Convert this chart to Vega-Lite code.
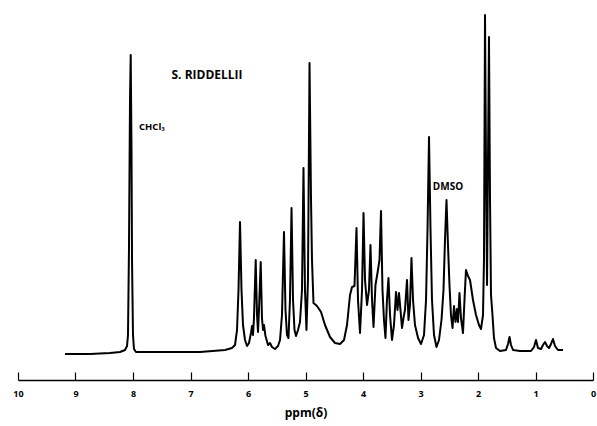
{
  "$schema": "https://vega.github.io/schema/vega-lite/v6.json",
  "autosize": {"type": "none"},
  "padding": {"left": 18, "top": 0, "right": 4, "bottom": 46},
  "width": 575,
  "height": 380,
  "background": "white",
  "config": {"view": {"stroke": null}, "axis": {"grid": false}},
  "datasets": {
    "spectrum": [
      {"ppm": 9.183, "I": -1}, {"ppm": 8.748, "I": -1}, {"ppm": 8.4, "I": 0}, {"ppm": 8.226, "I": 1},
      {"ppm": 8.139, "I": 3}, {"ppm": 8.104, "I": 7}, {"ppm": 8.087, "I": 18}, {"ppm": 8.07, "I": 103},
      {"ppm": 8.052, "I": 253}, {"ppm": 8.04, "I": 298}, {"ppm": 8.026, "I": 203}, {"ppm": 8.017, "I": 93},
      {"ppm": 8.0, "I": 18}, {"ppm": 7.983, "I": 4}, {"ppm": 7.948, "I": 1}, {"ppm": 7.53, "I": 1},
      {"ppm": 6.835, "I": 1}, {"ppm": 6.4, "I": 3}, {"ppm": 6.278, "I": 5}, {"ppm": 6.226, "I": 8},
      {"ppm": 6.191, "I": 23}, {"ppm": 6.165, "I": 63}, {"ppm": 6.139, "I": 131}, {"ppm": 6.113, "I": 63},
      {"ppm": 6.087, "I": 28}, {"ppm": 6.052, "I": 13}, {"ppm": 6.017, "I": 7}, {"ppm": 5.983, "I": 10},
      {"ppm": 5.948, "I": 20}, {"ppm": 5.93, "I": 27}, {"ppm": 5.913, "I": 18}, {"ppm": 5.896, "I": 35},
      {"ppm": 5.866, "I": 93}, {"ppm": 5.843, "I": 38}, {"ppm": 5.826, "I": 21}, {"ppm": 5.809, "I": 43},
      {"ppm": 5.779, "I": 91}, {"ppm": 5.757, "I": 35}, {"ppm": 5.739, "I": 23}, {"ppm": 5.722, "I": 28},
      {"ppm": 5.696, "I": 17}, {"ppm": 5.652, "I": 8}, {"ppm": 5.617, "I": 10}, {"ppm": 5.583, "I": 6},
      {"ppm": 5.53, "I": 4}, {"ppm": 5.478, "I": 7}, {"ppm": 5.443, "I": 13}, {"ppm": 5.409, "I": 38},
      {"ppm": 5.374, "I": 121}, {"ppm": 5.348, "I": 43}, {"ppm": 5.322, "I": 18}, {"ppm": 5.296, "I": 15},
      {"ppm": 5.27, "I": 53}, {"ppm": 5.243, "I": 145}, {"ppm": 5.217, "I": 53}, {"ppm": 5.191, "I": 23},
      {"ppm": 5.165, "I": 17}, {"ppm": 5.13, "I": 23}, {"ppm": 5.096, "I": 31}, {"ppm": 5.061, "I": 63},
      {"ppm": 5.035, "I": 185}, {"ppm": 5.009, "I": 63}, {"ppm": 4.983, "I": 23}, {"ppm": 4.957, "I": 73},
      {"ppm": 4.93, "I": 290}, {"ppm": 4.904, "I": 153}, {"ppm": 4.887, "I": 93}, {"ppm": 4.861, "I": 50},
      {"ppm": 4.8, "I": 47}, {"ppm": 4.73, "I": 41}, {"ppm": 4.661, "I": 28}, {"ppm": 4.574, "I": 16},
      {"ppm": 4.487, "I": 10}, {"ppm": 4.4, "I": 9}, {"ppm": 4.33, "I": 13}, {"ppm": 4.278, "I": 28},
      {"ppm": 4.226, "I": 58}, {"ppm": 4.191, "I": 66}, {"ppm": 4.148, "I": 67}, {"ppm": 4.113, "I": 125},
      {"ppm": 4.087, "I": 53}, {"ppm": 4.052, "I": 20}, {"ppm": 4.017, "I": 63}, {"ppm": 3.991, "I": 140},
      {"ppm": 3.965, "I": 73}, {"ppm": 3.93, "I": 48}, {"ppm": 3.896, "I": 63}, {"ppm": 3.87, "I": 108},
      {"ppm": 3.843, "I": 53}, {"ppm": 3.817, "I": 26}, {"ppm": 3.783, "I": 68}, {"ppm": 3.748, "I": 80},
      {"ppm": 3.713, "I": 93}, {"ppm": 3.687, "I": 142}, {"ppm": 3.661, "I": 63}, {"ppm": 3.635, "I": 33},
      {"ppm": 3.609, "I": 15}, {"ppm": 3.583, "I": 53}, {"ppm": 3.557, "I": 75}, {"ppm": 3.53, "I": 38},
      {"ppm": 3.496, "I": 13}, {"ppm": 3.461, "I": 28}, {"ppm": 3.426, "I": 61}, {"ppm": 3.4, "I": 43},
      {"ppm": 3.374, "I": 60}, {"ppm": 3.348, "I": 43}, {"ppm": 3.322, "I": 25}, {"ppm": 3.296, "I": 35},
      {"ppm": 3.27, "I": 43}, {"ppm": 3.235, "I": 73}, {"ppm": 3.209, "I": 33}, {"ppm": 3.183, "I": 48},
      {"ppm": 3.157, "I": 95}, {"ppm": 3.13, "I": 53}, {"ppm": 3.096, "I": 28}, {"ppm": 3.043, "I": 15},
      {"ppm": 2.991, "I": 9}, {"ppm": 2.939, "I": 18}, {"ppm": 2.904, "I": 53}, {"ppm": 2.878, "I": 123},
      {"ppm": 2.852, "I": 216}, {"ppm": 2.826, "I": 123}, {"ppm": 2.8, "I": 53}, {"ppm": 2.765, "I": 18},
      {"ppm": 2.722, "I": 6}, {"ppm": 2.678, "I": 13}, {"ppm": 2.635, "I": 33}, {"ppm": 2.6, "I": 63},
      {"ppm": 2.574, "I": 113}, {"ppm": 2.548, "I": 153}, {"ppm": 2.522, "I": 108}, {"ppm": 2.496, "I": 68},
      {"ppm": 2.47, "I": 38}, {"ppm": 2.443, "I": 25}, {"ppm": 2.417, "I": 47}, {"ppm": 2.391, "I": 31},
      {"ppm": 2.365, "I": 44}, {"ppm": 2.348, "I": 31}, {"ppm": 2.322, "I": 60}, {"ppm": 2.296, "I": 35},
      {"ppm": 2.261, "I": 20}, {"ppm": 2.235, "I": 53}, {"ppm": 2.209, "I": 83}, {"ppm": 2.174, "I": 77},
      {"ppm": 2.139, "I": 73}, {"ppm": 2.087, "I": 53}, {"ppm": 2.035, "I": 38}, {"ppm": 1.983, "I": 28},
      {"ppm": 1.948, "I": 24}, {"ppm": 1.913, "I": 38}, {"ppm": 1.896, "I": 93}, {"ppm": 1.878, "I": 338},
      {"ppm": 1.861, "I": 193}, {"ppm": 1.843, "I": 68}, {"ppm": 1.826, "I": 193}, {"ppm": 1.809, "I": 316},
      {"ppm": 1.791, "I": 153}, {"ppm": 1.774, "I": 58}, {"ppm": 1.748, "I": 38}, {"ppm": 1.722, "I": 15},
      {"ppm": 1.687, "I": 5}, {"ppm": 1.617, "I": 2}, {"ppm": 1.513, "I": 3}, {"ppm": 1.478, "I": 9},
      {"ppm": 1.452, "I": 16}, {"ppm": 1.426, "I": 8}, {"ppm": 1.391, "I": 3}, {"ppm": 1.27, "I": 2},
      {"ppm": 1.078, "I": 2}, {"ppm": 1.026, "I": 6}, {"ppm": 0.991, "I": 13}, {"ppm": 0.957, "I": 5},
      {"ppm": 0.904, "I": 4}, {"ppm": 0.87, "I": 8}, {"ppm": 0.835, "I": 11}, {"ppm": 0.8, "I": 7},
      {"ppm": 0.765, "I": 5}, {"ppm": 0.73, "I": 9}, {"ppm": 0.696, "I": 14}, {"ppm": 0.661, "I": 7},
      {"ppm": 0.609, "I": 3}, {"ppm": 0.522, "I": 3}
    ],
    "labels": [
      {"ppm": 6.713, "I": 278, "text": "S. RIDDELLII", "size": 12},
      {"ppm": 7.67, "I": 226, "text": "CHCl₃", "size": 9.5},
      {"ppm": 2.522, "I": 166, "text": "DMSO", "size": 10}
    ]
  },
  "layer": [
    {
      "data": {"name": "spectrum"},
      "mark": {"type": "line", "color": "black", "strokeWidth": 2, "interpolate": "linear", "strokeJoin": "round"},
      "encoding": {
        "x": {
          "field": "ppm", "type": "quantitative",
          "scale": {"domain": [0, 10], "reverse": true, "nice": false, "zero": false},
          "axis": {
            "values": [0, 1, 2, 3, 4, 5, 6, 7, 8, 9, 10],
            "format": "d",
            "title": "ppm(δ)",
            "titleFont": "Open Sans", "titleFontSize": 12, "titleFontWeight": "bold", "titleColor": "black",
            "titlePadding": 9,
            "labelFont": "Open Sans", "labelFontSize": 9, "labelFontWeight": "bold", "labelColor": "black",
            "labelPadding": 17, "labelFlush": false, "labelOverlap": false,
            "domainColor": "black", "domainWidth": 1.5,
            "tickColor": "black", "tickWidth": 1.2, "tickSize": -8
          }
        },
        "y": {
          "field": "I", "type": "quantitative",
          "scale": {"domain": [-27, 353], "nice": false, "zero": false},
          "axis": null
        }
      }
    },
    {
      "data": {"name": "labels"},
      "mark": {"type": "text", "font": "Open Sans", "fontWeight": "bold", "color": "black", "align": "center", "baseline": "middle"},
      "encoding": {
        "x": {"field": "ppm", "type": "quantitative"},
        "y": {"field": "I", "type": "quantitative"},
        "text": {"field": "text"},
        "size": {"field": "size", "type": "quantitative", "scale": null}
      }
    }
  ]
}
